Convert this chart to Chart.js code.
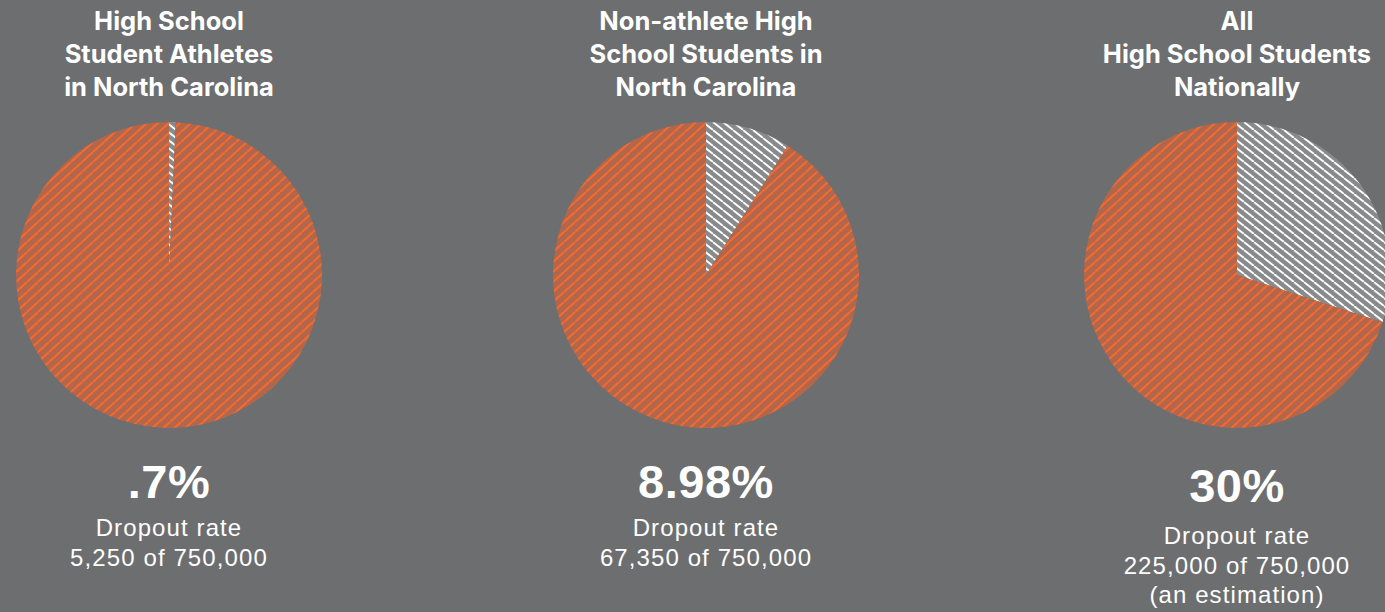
<!DOCTYPE html>
<html>
<head>
<meta charset="utf-8">
<script src="https://cdn.jsdelivr.net/npm/chart.js@4.4.1/dist/chart.umd.min.js"></script>
<style>
  html, body { margin: 0; padding: 0; }
  body { width: 1385px; height: 612px; background: #6d6e70; overflow: hidden; position: relative; color: #fff; }
  .pie { position: absolute; top: 122px; width: 306px; height: 306px; }
  .title { position: absolute; top: 4px; width: 400px; text-align: center;
    font-family: Inter, "Noto Sans", sans-serif; font-weight: 700; font-size: 25.5px; line-height: 33px; }
  .pct { position: absolute; width: 400px; text-align: center;
    font-family: "Liberation Sans", Arial, sans-serif; font-weight: 700; font-size: 47px; line-height: 50px; letter-spacing: 0.5px; }
  .sub { position: absolute; width: 400px; text-align: center;
    font-family: "Liberation Sans", Arial, sans-serif; font-size: 24px; line-height: 29.5px; letter-spacing: 1.1px; }
</style>
</head>
<body>
<script>
const titles = [
  ["High School", "Student Athletes", "in North Carolina"],
  ["Non-athlete High", "School Students in", "North Carolina"],
  ["All", "High School Students", "Nationally"],
];
const dropoutPct = [0.7, 8.98, 30];
const pctLabels = [".7%", "8.98%", "30%"];
const subLabels = [
  ["Dropout rate", "5,250 of 750,000"],
  ["Dropout rate", "67,350 of 750,000"],
  ["Dropout rate", "225,000 of 750,000", "(an estimation)"],
];
const centersX = [169, 706, 1237];
const pctTop = [457, 457, 461];
const subTop = [513, 513, 521];

// striped fill: tile w x h with one diagonal line corner to corner
function stripes(base, line, w, h, width, dir) {
  const c = document.createElement("canvas");
  c.width = w; c.height = h;
  const g = c.getContext("2d");
  g.fillStyle = base;
  g.fillRect(0, 0, w, h);
  g.strokeStyle = line;
  g.lineWidth = width;
  g.beginPath();
  for (let k = -1; k <= 1; k++) {
    if (dir === "/") {
      g.moveTo(k * w, h);
      g.lineTo(k * w + w, 0);
    } else {
      g.moveTo(k * w, 0);
      g.lineTo(k * w + w, h);
    }
  }
  g.stroke();
  return g.createPattern(c, "repeat");
}

const orangeFill = stripes("#b2664b", "#f16a30", 11, 10, 2.2, "/");
const grayFill = stripes("#898a8b", "#ffffff", 10, 8, 1.8, "\\");

titles.forEach((t, i) => {
  const cx = centersX[i];

  const title = document.createElement("div");
  title.className = "title";
  title.style.left = (cx - 200) + "px";
  title.innerHTML = t.join("<br>");
  document.body.appendChild(title);

  const box = document.createElement("div");
  box.className = "pie";
  box.style.left = (cx - 153) + "px";
  const canvas = document.createElement("canvas");
  box.appendChild(canvas);
  document.body.appendChild(box);

  const pct = document.createElement("div");
  pct.className = "pct";
  pct.style.left = (cx - 200) + "px";
  pct.style.top = pctTop[i] + "px";
  pct.textContent = pctLabels[i];
  document.body.appendChild(pct);

  const sub = document.createElement("div");
  sub.className = "sub";
  sub.style.left = (cx - 200) + "px";
  sub.style.top = subTop[i] + "px";
  sub.innerHTML = subLabels[i].join("<br>");
  document.body.appendChild(sub);

  new Chart(canvas.getContext("2d"), {
    type: "pie",
    data: {
      labels: ["Dropout", "Graduate"],
      datasets: [{
        data: [dropoutPct[i], 100 - dropoutPct[i]],
        backgroundColor: [grayFill, orangeFill],
        borderWidth: 0,
      }],
    },
    options: {
      responsive: true,
      maintainAspectRatio: false,
      animation: false,
      layout: { padding: 0 },
      plugins: { legend: { display: false }, tooltip: { enabled: false } },
    },
  });
});
</script>
</body>
</html>
